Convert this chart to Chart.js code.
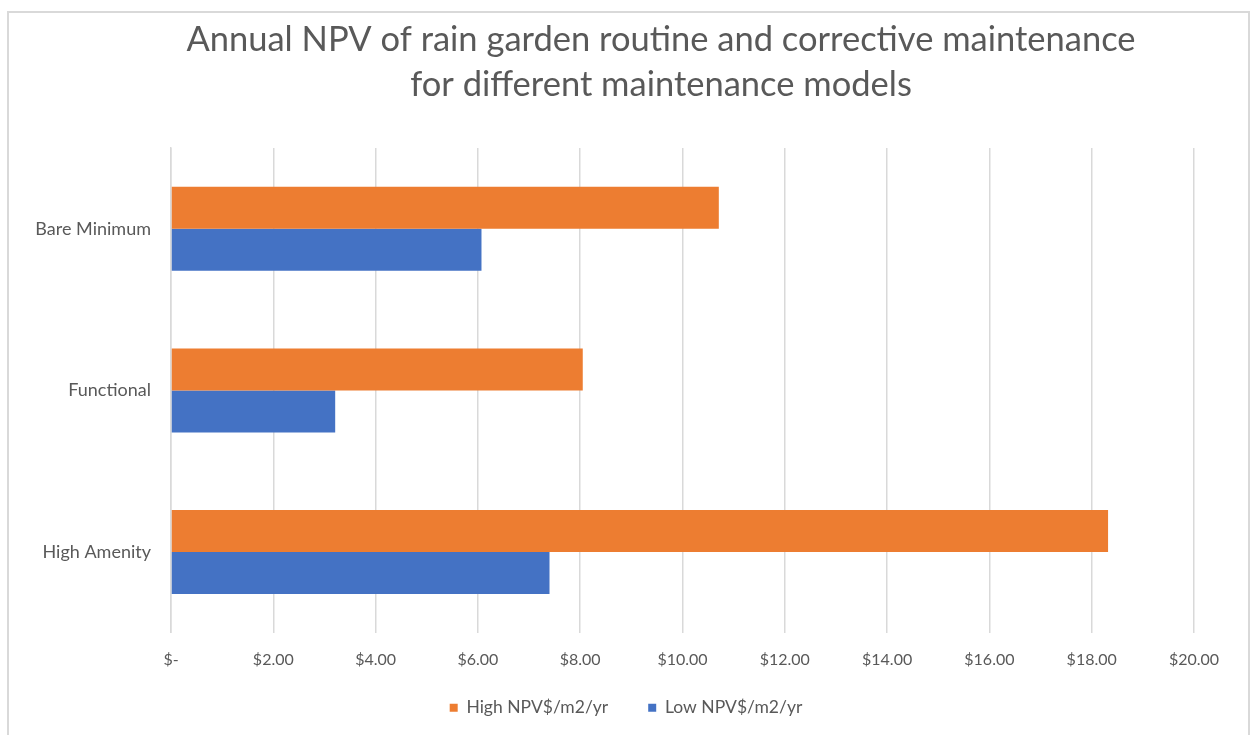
<!DOCTYPE html>
<html>
<head>
<meta charset="utf-8">
<script src="https://cdn.jsdelivr.net/npm/chart.js@4"></script>
<style>
  body { margin: 0; background: #fff; }
  #frame { position: absolute; left: 7px; top: 11px; width: 1243px; height: 740px; border: 2px solid #d9d9d9; box-sizing: border-box; }
  #wrap { position: absolute; left: 0; top: 0; width: 1252px; height: 735px; }
</style>
</head>
<body>
<div id="frame"></div>
<div id="wrap"><canvas id="chartNpv"></canvas></div>
<script>
// categorias de cima para baixo, como no Excel
const categorias = ['Bare Minimum', 'Functional', 'High Amenity'];
const highNpv = [10.71, 8.05, 18.32];
const lowNpv = [6.07, 3.21, 7.40];
const tituloLinhas = ['Annual NPV of rain garden routine and corrective maintenance', 'for different maintenance models'];
const legendas = ['High NPV$/m2/yr', 'Low NPV$/m2/yr'];

const cinzaTexto = '#595959';

// o titulo do Excel fica centrado no quadro inteiro, nao na area do grafico
const tituloCentrado = {
    id: 'tituloCentrado',
    afterDraw(chart) {
        const c = chart.ctx;
        c.save();
        c.fillStyle = cinzaTexto;
        c.font = '34.5px Lato';
        c.textAlign = 'center';
        c.textBaseline = 'middle';
        tituloLinhas.forEach((linha, i) => c.fillText(linha, 661, 40 + i * 45));
        c.restore();
    }
};

// empurra a legenda um pouco pra direita/cima, como no original
const ajusteLegenda = {
    id: 'ajusteLegenda',
    afterLayout(chart) {
        const l = chart.legend;
        const dx = 29, dy = -27;
        l.left += dx; l.right += dx;
        l.top += dy; l.bottom += dy;
    }
};

const ctx = document.getElementById('chartNpv');
new Chart(ctx, {
    type: 'bar',
    data: {
        labels: categorias,
        datasets: [
            { label: legendas[0], data: highNpv, backgroundColor: '#ED7D31' },
            { label: legendas[1], data: lowNpv, backgroundColor: '#4472C4' }
        ]
    },
    options: {
        indexAxis: 'y',
        responsive: true,
        maintainAspectRatio: false,
        animation: false,
        categoryPercentage: 0.52,
        barPercentage: 1.0,
        layout: { padding: { left: 0, right: 58, top: 148, bottom: -16 } },
        plugins: {
            title: { display: false },
            legend: {
                position: 'bottom',
                maxHeight: 65,
                labels: {
                    color: cinzaTexto,
                    font: { family: 'Lato', size: 17.5 },
                    boxWidth: 8,
                    boxHeight: 8,
                    padding: 40
                }
            },
            tooltip: { enabled: false }
        },
        scales: {
            x: {
                min: 0,
                max: 20,
                ticks: {
                    stepSize: 2,
                    color: cinzaTexto,
                    font: { family: 'Lato', size: 16 },
                    padding: 17,
                    callback: v => v === 0 ? '$-' : '$' + v.toFixed(2)
                },
                grid: { color: '#d9d9d9', lineWidth: 1.5, drawTicks: false },
                border: { display: false }
            },
            y: {
                ticks: {
                    color: cinzaTexto,
                    font: { family: 'Lato', size: 18 },
                    padding: 20
                },
                grid: { display: false, drawTicks: false },
                border: { display: true, color: '#d9d9d9', width: 1.5 },
                afterFit: scale => { scale.width = 171; }
            }
        }
    },
    plugins: [tituloCentrado, ajusteLegenda]
});
</script>
</body>
</html>
